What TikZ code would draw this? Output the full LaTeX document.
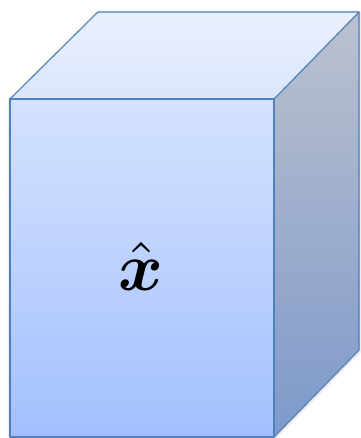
\documentclass[tikz,border=0pt]{standalone}
\usepackage{graphicx}
\usepackage{amsmath}
\usetikzlibrary{shadows.blur}
\definecolor{edgeblue}{RGB}{79,129,189}
\definecolor{fronttop}{RGB}{212,226,254}
\definecolor{frontbot}{RGB}{163,192,254}
\definecolor{lidtop}{RGB}{234,240,253}
\definecolor{lidbot}{RGB}{219,230,252}
\definecolor{sidetop}{RGB}{188,193,206}
\definecolor{sidebot}{RGB}{126,153,203}
\tikzset{
  face/.style={draw=edgeblue,line width=1.1pt},
}
\begin{document}
\begin{tikzpicture}[x=1pt,y=1pt,line join=round]
    \useasboundingbox (0,0) rectangle (360,438);
    % corners of the box
    \coordinate (fbl) at (10,1);
    \coordinate (fbr) at (274,1);
    \coordinate (ftl) at (10,339);
    \coordinate (ftr) at (274,339);
    \coordinate (btl) at (98,426);
    \coordinate (btr) at (359,426);
    \coordinate (bbr) at (359,88);
    % soft shadow under the whole box
    \fill[blur shadow={shadow xshift=0pt,shadow yshift=-1pt,shadow blur radius=3pt,shadow opacity=30},white,opacity=0]
      (fbl) -- (ftl) -- (btl) -- (btr) -- (bbr) -- (fbr) -- cycle;
    \path[face,top color=sidetop,bottom color=sidebot]
      (fbr) -- (ftr) -- (btr) -- (bbr) -- cycle;
    \path[face,top color=lidtop,bottom color=lidbot]
      (ftl) -- (btl) -- (btr) -- (ftr) -- cycle;
    \path[face,top color=fronttop,bottom color=frontbot]
      (fbl) rectangle (ftr);
    \node (xhat) at (141,172) {\scalebox{6.8}{$\hat{\boldsymbol{x}}$}};
  \end{tikzpicture}
\end{document}
